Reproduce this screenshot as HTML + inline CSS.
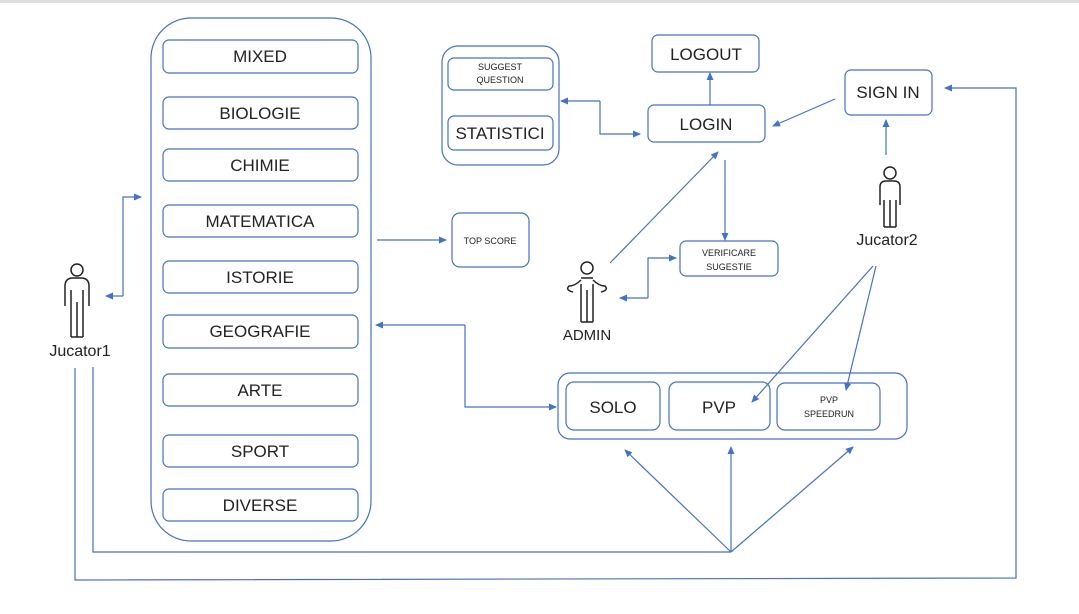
<!DOCTYPE html>
<html><head><meta charset="utf-8"><style>
html,body{margin:0;padding:0;background:#fff;width:1079px;height:614px;overflow:hidden}
svg{display:block}
text{font-family:"Liberation Sans",sans-serif;fill:#222}
</style></head><body>
<svg width="1079" height="614" viewBox="0 0 1079 614" xmlns="http://www.w3.org/2000/svg">
<defs>
<marker id="a" markerWidth="8" markerHeight="8" refX="7" refY="4" orient="auto" markerUnits="userSpaceOnUse">
<path d="M0,0.5 L8,4 L0,7.5 z" fill="#4472C4"/></marker>
</defs>
<rect x="0" y="0" width="1079" height="3" fill="#ddd"/>
<g fill="none" stroke="#4472C4" stroke-width="1.2">
<rect x="151" y="18" width="220" height="523" rx="40"/>
<rect x="163" y="40" width="195" height="33" rx="6"/>
<rect x="163" y="97" width="195" height="32" rx="6"/>
<rect x="163" y="149" width="195" height="32" rx="6"/>
<rect x="163" y="205" width="195" height="32" rx="6"/>
<rect x="163" y="261" width="195" height="32" rx="6"/>
<rect x="163" y="315" width="195" height="33" rx="6"/>
<rect x="163" y="374" width="195" height="32" rx="6"/>
<rect x="163" y="435" width="195" height="32" rx="6"/>
<rect x="163" y="489" width="195" height="32" rx="6"/>
<rect x="452" y="213" width="77" height="54" rx="8"/>
<rect x="442" y="46" width="117" height="119" rx="16"/>
<rect x="448" y="58" width="105" height="32" rx="6"/>
<rect x="448" y="116" width="105" height="34" rx="6"/>
<rect x="648" y="105" width="117" height="37" rx="6"/>
<rect x="652" y="35" width="107" height="37" rx="6"/>
<rect x="845" y="70" width="87" height="45" rx="6"/>
<rect x="680" y="241" width="98" height="35" rx="6"/>
<rect x="558" y="373" width="349" height="66" rx="12"/>
<rect x="566" y="382" width="94" height="48" rx="8"/>
<rect x="669" y="382" width="101" height="48" rx="8"/>
<rect x="777" y="383" width="103" height="47" rx="8"/>
</g>
<g fill="none" stroke="#4472C4" stroke-width="1.2">
<path d="M123,296 L123,197 L141,197" marker-end="url(#a)"/>
<path d="M123,296 L106,296" marker-end="url(#a)"/>
<path d="M377,240 L446,240" marker-end="url(#a)"/>
<path d="M600,101 L600,134 L640,134" marker-end="url(#a)"/>
<path d="M600,101 L561,101" marker-end="url(#a)"/>
<path d="M710,105 L710,73" marker-end="url(#a)"/>
<path d="M835,99 L773,126" marker-end="url(#a)"/>
<path d="M886,155 L886,120" marker-end="url(#a)"/>
<path d="M610,263 L718,152" marker-end="url(#a)"/>
<path d="M725,160 L725,240" marker-end="url(#a)"/>
<path d="M648,298 L648,258 L676,258" marker-end="url(#a)"/>
<path d="M648,298 L620,298" marker-end="url(#a)"/>
<path d="M465,325 L465,407 L556,407" marker-end="url(#a)"/>
<path d="M465,325 L376,325" marker-end="url(#a)"/>
<path d="M873,266 L752,402" marker-end="url(#a)"/>
<path d="M876,266 L846,390" marker-end="url(#a)"/>
<path d="M93,367 L93,552 L731,552"/>
<path d="M731,552 L625,450" marker-end="url(#a)"/>
<path d="M731,552 L731,447" marker-end="url(#a)"/>
<path d="M731,552 L853,447" marker-end="url(#a)"/>
<path d="M75,368 L75,580 L1016,578 L1016,88 L945,88" marker-end="url(#a)"/>
</g>
<!-- figures -->
<g fill="#fff" stroke="#222" stroke-width="1.5">
<g transform="translate(77,262)">
<circle cx="0" cy="8" r="6"/>
<path d="M-6,75 L-6,40 M0,75 L0,40 M6,75 L6,40 M-6,75 L6,75 M-12,44 L-12,24 Q-12,16 -4,16 L4,16 Q12,16 12,24 L12,44 M-6,40 L-6,28 M6,40 L6,28" fill="none"/>
</g>
<g transform="translate(890,165)">
<circle cx="0" cy="8" r="6"/>
<path d="M-6,62 L-6,35 M0,62 L0,35 M6,62 L6,35 M-6,62 L6,62 M-10,40 L-10,22 Q-10,16 -4,16 L4,16 Q10,16 10,22 L10,40" fill="none"/>
</g>
<g transform="translate(587,260)">
<circle cx="0" cy="8" r="6"/>
<path d="M-6,62 L-6,24 M0,62 L0,30 M6,62 L6,24 M-6,62 L6,62 M-6,18 L6,18 M-6,20 Q-12,26 -18,26 Q-22,30 -14,32 M6,20 Q12,26 18,26 Q22,30 14,32" fill="none"/>
</g>
</g>
<g font-size="17" text-anchor="middle">
<text x="260" y="62">MIXED</text>
<text x="260" y="119">BIOLOGIE</text>
<text x="260" y="171">CHIMIE</text>
<text x="260" y="227">MATEMATICA</text>
<text x="260" y="283">ISTORIE</text>
<text x="260" y="337">GEOGRAFIE</text>
<text x="260" y="396">ARTE</text>
<text x="260" y="457">SPORT</text>
<text x="260" y="511">DIVERSE</text>
<text x="706" y="60">LOGOUT</text>
<text x="706" y="130">LOGIN</text>
<text x="888" y="98">SIGN IN</text>
<text x="500" y="139">STATISTICI</text>
<text x="613" y="413">SOLO</text>
<text x="719" y="413">PVP</text>
<text x="80" y="356" font-size="16">Jucator1</text>
<text x="887" y="245" font-size="16">Jucator2</text>
<text x="587" y="340" font-size="15">ADMIN</text>
</g>
<g font-size="9" text-anchor="middle">
<text x="500" y="70">SUGGEST</text>
<text x="500" y="83">QUESTION</text>
<text x="490" y="244">TOP SCORE</text>
<text x="729" y="256">VERIFICARE</text>
<text x="729" y="270">SUGESTIE</text>
<text x="829" y="403">PVP</text>
<text x="829" y="417">SPEEDRUN</text>
</g>
</svg>
</body></html>
